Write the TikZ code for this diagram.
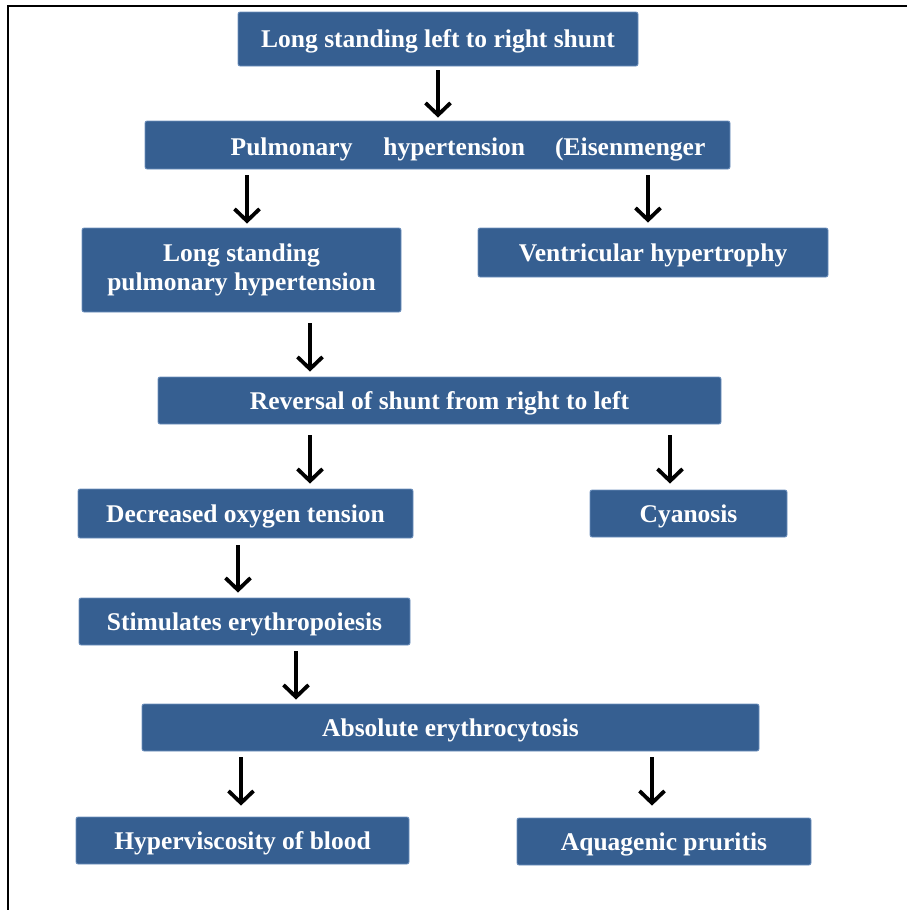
\documentclass[tikz,border=0pt]{standalone}
\usepackage{fontspec}
\setmainfont{Liberation Serif}
\usetikzlibrary{arrows.meta}
\definecolor{boxblue}{RGB}{54,95,145}
\definecolor{boxedge}{RGB}{110,145,190}
\tikzset{
  boxtext/.style={text=white, font=\bfseries\fontsize{25.5}{29}\selectfont, align=center},
  capcenter/.style={text height=17pt, text depth=0pt},
  boxbase/.style={draw=boxedge, line width=0.8pt, fill=boxblue, rounded corners=2pt,
    inner sep=0pt, boxtext},
  box/.style={boxbase, capcenter},
  arr/.style={line width=3.8pt, -{Straight Barb[length=12pt,width=25pt]}}
}
\begin{document}
\begin{tikzpicture}[x=1pt,y=-1pt]
\useasboundingbox (0,0) rectangle (907,910);
\draw[line width=1.5pt] (8,910) -- (8,6) -- (907,6);

\node[box, minimum width=400pt, minimum height=54pt] (b1) at (438,39) {Long standing left to right shunt};
\node[box, minimum width=585pt, minimum height=48pt] (b2) at (437.5,145) {};
\node[boxtext, capcenter, inner sep=0pt] (b2t) at (468,147)
  {Pulmonary\hspace{31pt}hypertension\hspace{30pt}(Eisenmenger};
\node[boxbase, minimum width=319pt, minimum height=84pt] (b3) at (241.5,270) {Long standing\\pulmonary hypertension};
\node[box, minimum width=350pt, minimum height=49pt] (b4) at (653,252.5) {Ventricular hypertrophy};
\node[box, minimum width=563pt, minimum height=47pt] (b5) at (439.5,400.5) {Reversal of shunt from right to left};
\node[box, minimum width=335pt, minimum height=49pt] (b6) at (245.5,513.5) {Decreased oxygen tension};
\node[box, minimum width=197pt, minimum height=47pt] (b7) at (688.5,513.5) {Cyanosis};
\node[box, minimum width=331pt, minimum height=47pt] (b8) at (244.5,621.5) {Stimulates erythropoiesis};
\node[box, minimum width=617pt, minimum height=47pt] (b9) at (450.5,727.5) {Absolute erythrocytosis};
\node[box, minimum width=333pt, minimum height=47pt] (b10) at (242.5,840.5) {Hyperviscosity of blood};
\node[box, minimum width=294pt, minimum height=47pt] (b11) at (664,841.5) {Aquagenic pruritis};

\coordinate (x1) at (438,0);
\coordinate (x2) at (247,0);
\coordinate (x3) at (648,0);
\coordinate (x4) at (310,0);
\coordinate (x6) at (670,0);
\coordinate (x7) at (238,0);
\coordinate (x8) at (296,0);
\coordinate (x9) at (241,0);
\coordinate (x10) at (652,0);

\draw[arr, shorten <=4pt, shorten >=3pt] (x1 |- b1.south) -- (x1 |- b2.north);
\draw[arr, shorten <=6pt, shorten >=4pt] (x2 |- b2.south) -- (x2 |- b3.north);
\draw[arr, shorten <=6pt, shorten >=5pt] (x3 |- b2.south) -- (x3 |- b4.north);
\draw[arr, shorten <=11pt, shorten >=5pt] (x4 |- b3.south) -- (x4 |- b5.north);
\draw[arr, shorten <=11pt, shorten >=5pt] (x4 |- b5.south) -- (x4 |- b6.north);
\draw[arr, shorten <=11pt, shorten >=6pt] (x6 |- b5.south) -- (x6 |- b7.north);
\draw[arr, shorten <=7pt, shorten >=5pt] (x7 |- b6.south) -- (x7 |- b8.north);
\draw[arr, shorten <=6pt, shorten >=4pt] (x8 |- b8.south) -- (x8 |- b9.north);
\draw[arr, shorten <=6pt, shorten >=11pt] (x9 |- b9.south) -- (x9 |- b10.north);
\draw[arr, shorten <=6pt, shorten >=12pt] (x10 |- b9.south) -- (x10 |- b11.north);
\end{tikzpicture}
\end{document}
